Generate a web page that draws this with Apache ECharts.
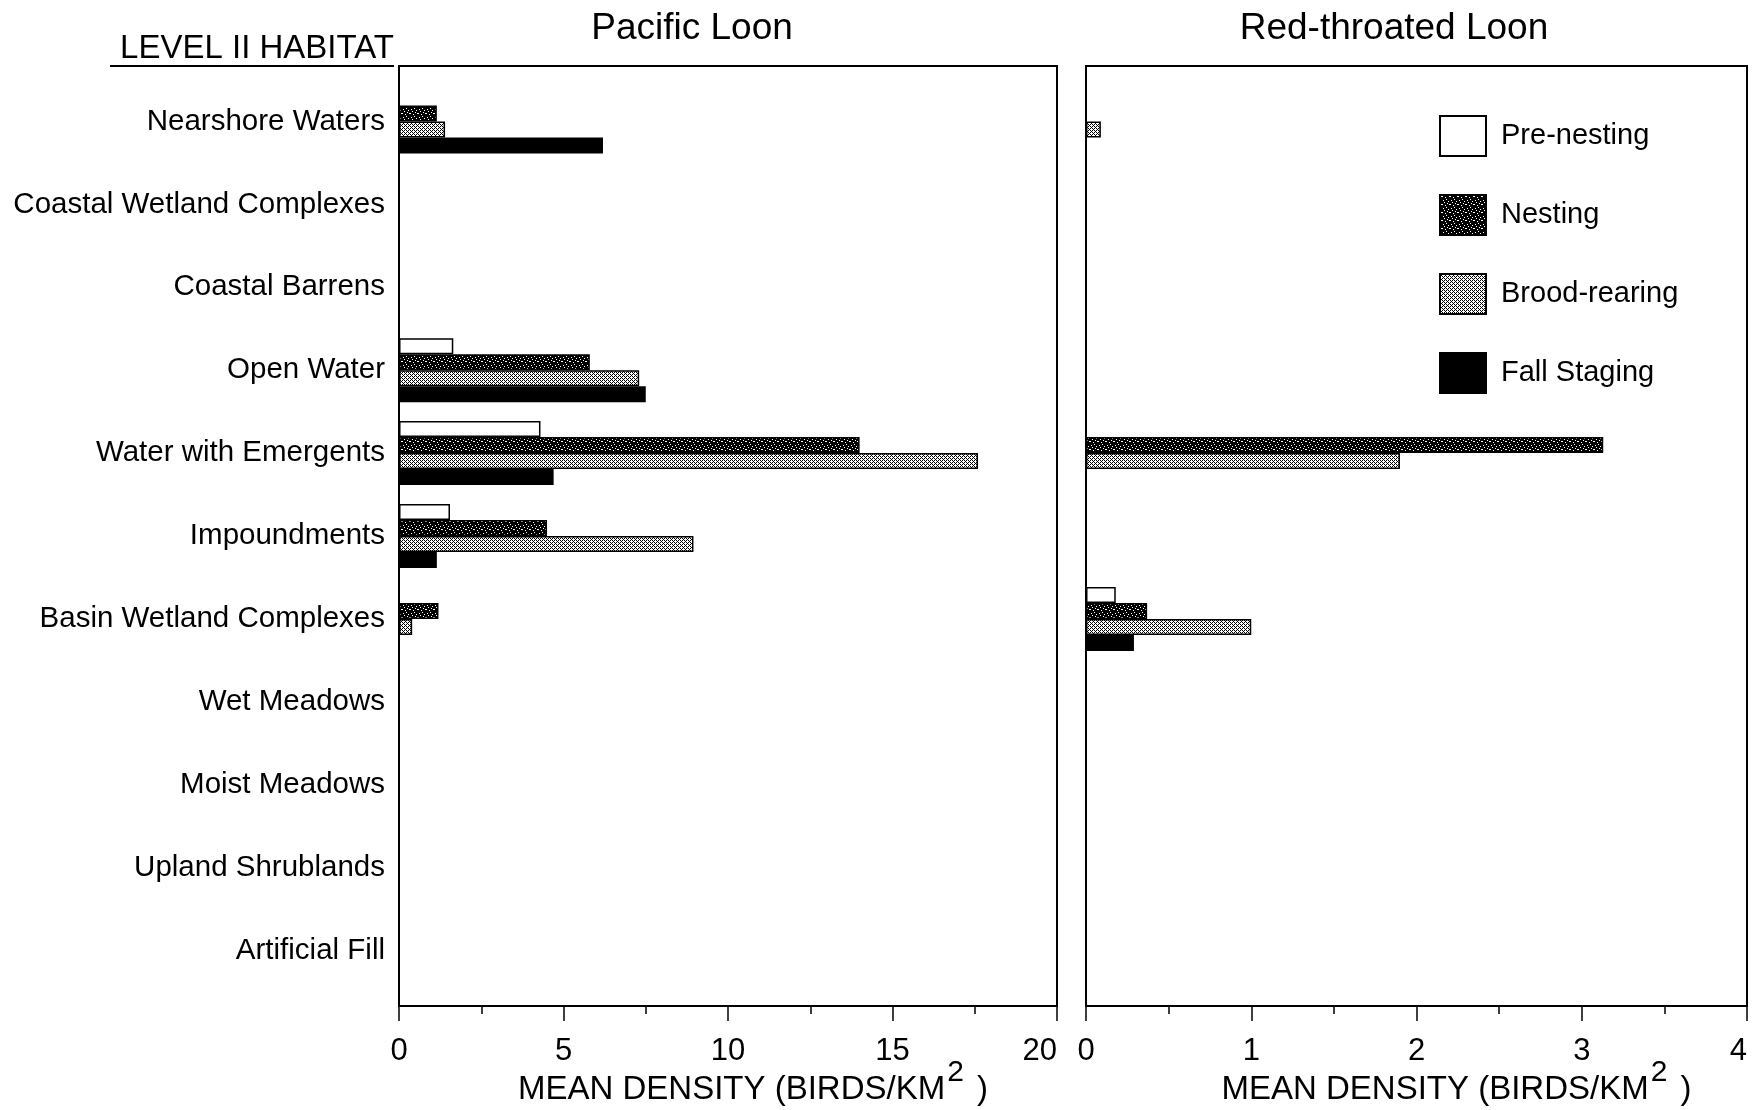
<!DOCTYPE html>
<html>
<head>
<meta charset="utf-8">
<script src="https://cdn.jsdelivr.net/npm/echarts@6/dist/echarts.min.js"></script>
<style>
html,body{margin:0;padding:0;background:#fff;}
#chart{width:1754px;height:1110px;}
</style>
</head>
<body>
<div id="chart"></div>
<script>
// ---------- data ----------
const categories = ['Nearshore Waters','Coastal Wetland Complexes','Coastal Barrens','Open Water','Water with Emergents','Impoundments','Basin Wetland Complexes','Wet Meadows','Moist Meadows','Upland Shrublands','Artificial Fill'];
const seasons = ['Pre-nesting','Nesting','Brood-rearing','Fall Staging'];
const panelTitles = ['Pacific Loon','Red-throated Loon'];

const pacificPreNesting = [0,0,0,1.65,4.3,1.55,0,0,0,0,0];
const pacificNesting    = [1.15,0,0,5.8,14.0,4.5,1.2,0,0,0,0];
const pacificBrood      = [1.4,0,0,7.3,17.6,8.95,0.4,0,0,0,0];
const pacificFall       = [6.2,0,0,7.5,4.7,1.15,0,0,0,0,0];

const redPreNesting = [0,0,0,0,0,0,0.18,0,0,0,0];
const redNesting    = [0,0,0,0,3.13,0,0.37,0,0,0,0];
const redBrood      = [0.09,0,0,0,1.9,0,1.0,0,0,0,0];
const redFall       = [0,0,0,0,0,0,0.29,0,0,0,0];

const pacificAxis = {min:0, max:20, interval:5};
const redAxis = {min:0, max:4, interval:1};

// ---------- patterns ----------
function makeTile(w, h, drawFn){
  const c = document.createElement('canvas');
  c.width = w; c.height = h;
  const g = c.getContext('2d');
  drawFn(g);
  return c;
}
const nestingTile = makeTile(8, 8, g => {
  g.fillStyle = '#000'; g.fillRect(0,0,8,8);
  g.fillStyle = '#fff';
  [[1,1],[2,1],[5,2],[6,4],[3,5],[0,6],[4,7],[7,0]].forEach(p => g.fillRect(p[0],p[1],1,1));
});
const broodTile = makeTile(4, 4, g => {
  g.fillStyle = '#fff'; g.fillRect(0,0,4,4);
  g.fillStyle = '#000';
  [[0,0],[2,0],[1,1],[0,2],[2,2],[3,3]].forEach(p => g.fillRect(p[0],p[1],1,1));
});
const fills = [
  '#ffffff',
  {image: nestingTile, repeat: 'repeat'},
  {image: broodTile, repeat: 'repeat'},
  '#000000'
];

const pacificSeries = [pacificPreNesting, pacificNesting, pacificBrood, pacificFall];
const redSeries = [redPreNesting, redNesting, redBrood, redFall];

function toData(arr){ return arr.map(v => v === 0 ? null : v); }

// ---------- layout ----------
const G = [
  {left: 399, width: 658, namePad: 50},
  {left: 1086, width: 661, namePad: 80}
];
const gridTop = 80, gridHeight = 912;
const frameTop = 66, frameBottom = 1006;
const font = 'Liberation Sans, Arial, Helvetica, sans-serif';

const series = [];
[pacificSeries, redSeries].forEach((set, gi) => {
  set.forEach((vals, si) => {
    series.push({
      type: 'bar',
      name: seasons[si],
      xAxisIndex: gi, yAxisIndex: gi,
      data: toData(vals),
      barWidth: 16,
      barGap: '0%',
      itemStyle: {color: fills[si], borderColor: '#000', borderWidth: 1.5},
      emphasis: {disabled: true},
      silent: true
    });
  });
});

function xAxisCfg(gi, ax){
  return {
    type: 'value', gridIndex: gi, min: ax.min, max: ax.max, interval: ax.interval,
    offset: frameBottom - (gridTop + gridHeight),
    axisLine: {show: false},
    axisTick: {show: true, length: 15, lineStyle: {color: '#000', width: 1.5}},
    minorTick: {show: true, splitNumber: 2, length: 8, lineStyle: {color: '#000', width: 1.5}},
    splitLine: {show: false},
    axisLabel: {color: '#000', fontSize: 31, fontFamily: font, margin: 30, alignMaxLabel: 'right'},
    name: 'MEAN DENSITY (BIRDS/KM{sup|2} )',
    nameLocation: 'middle',
    nameGap: 52,
    nameMoveOverlap: false,
    nameTextStyle: {
      color: '#000', fontSize: 33, fontFamily: font, padding: [0,0,0,G[gi].namePad],
      rich: {sup: {fontSize: 30, fontFamily: font, color: '#000', padding: [0,4,34,2]}}
    }
  };
}
function yAxisCfg(gi){
  return {
    type: 'category', gridIndex: gi, data: categories, inverse: true,
    axisLine: {show: false}, axisTick: {show: false},
    axisLabel: {show: gi === 0, color: '#000', fontSize: 29.5, fontFamily: font, margin: 14}
  };
}

const option = {
  backgroundColor: '#fff',
  animation: false,
  title: [
    {text: 'LEVEL II HABITAT', left: 252, top: 27, textAlign: 'center',
     textStyle: {fontSize: 33, fontWeight: 'normal', color: '#000', fontFamily: font}},
    {text: panelTitles[0], left: 687, top: 5, textAlign: 'center',
     textStyle: {fontSize: 37, fontWeight: 'normal', color: '#000', fontFamily: font}},
    {text: panelTitles[1], left: 1389, top: 5, textAlign: 'center',
     textStyle: {fontSize: 37, fontWeight: 'normal', color: '#000', fontFamily: font}}
  ],
  legend: {
    data: seasons,
    orient: 'vertical',
    left: 1434, top: 110,
    itemWidth: 46, itemHeight: 40, itemGap: 37,
    icon: 'rect',
    textStyle: {color: '#000', fontSize: 29, fontFamily: font, padding: [0,0,0,10]},
    selectedMode: false
  },
  grid: G.map(g => ({left: g.left, width: g.width, top: gridTop, height: gridHeight,
                     containLabel: false, outerBoundsMode: 'none'})),
  xAxis: [xAxisCfg(0, pacificAxis), xAxisCfg(1, redAxis)],
  yAxis: [yAxisCfg(0), yAxisCfg(1)],
  graphic: [
    {type: 'rect', shape: {x: G[0].left, y: frameTop, width: G[0].width, height: frameBottom - frameTop},
     style: {fill: 'none', stroke: '#000', lineWidth: 2}, silent: true, z: 100},
    {type: 'rect', shape: {x: G[1].left, y: frameTop, width: G[1].width, height: frameBottom - frameTop},
     style: {fill: 'none', stroke: '#000', lineWidth: 2}, silent: true, z: 100},
    {type: 'line', shape: {x1: 110, y1: 66, x2: 394, y2: 66},
     style: {stroke: '#000', lineWidth: 2}, silent: true}
  ],
  series: series
};

const chart = echarts.init(document.getElementById('chart'), null, {renderer: 'canvas'});
chart.setOption(option);
</script>
</body>
</html>
